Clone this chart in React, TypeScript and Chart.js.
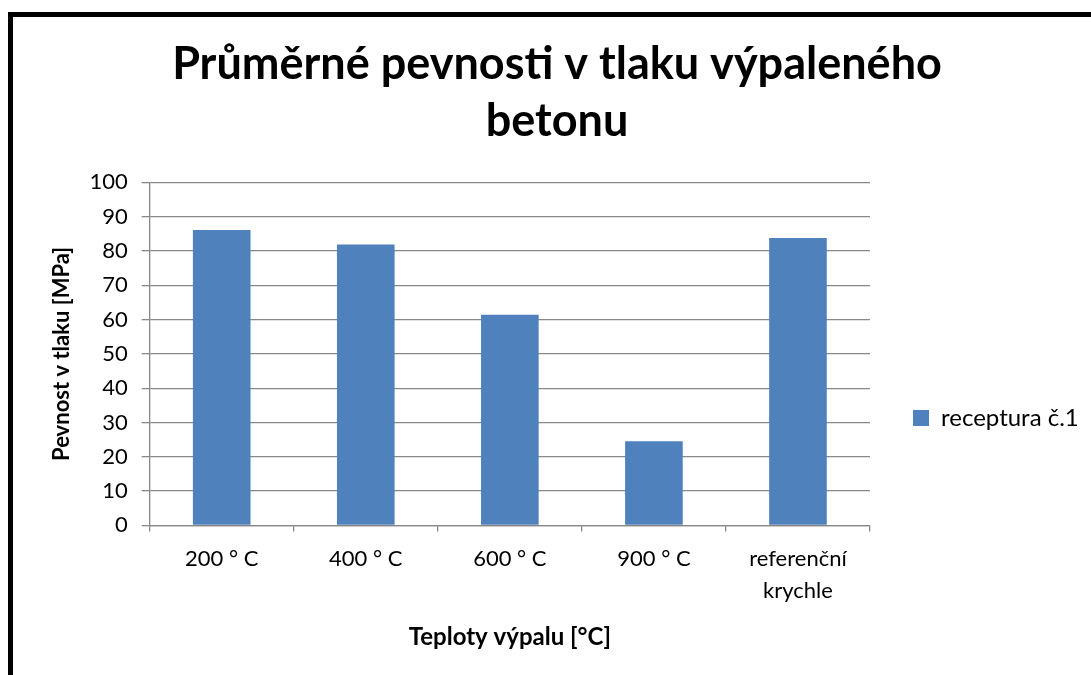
import React, { useEffect, useRef } from "react";
import { Chart, registerables } from "chart.js";

Chart.register(...registerables);

const categories: (string | string[])[] = ["200 ° C", "400 ° C", "600 ° C", "900 ° C", ["referenční", "krychle"]];
const seriesName = "receptura č.1";
const seriesValues = [86.1, 81.9, 61.4, 24.5, 83.8];
const titleLines = ["Průměrné pevnosti v tlaku výpaleného", "betonu"];
const yTitle = "Pevnost v tlaku [MPa]";
const xTitle = "Teploty výpalu [°C]";

const FONT = "Lato, 'Open Sans', sans-serif";

export default function App() {
  const ref = useRef<HTMLCanvasElement | null>(null);
  useEffect(() => {
    if (!ref.current) return;
    const chart = new Chart(ref.current, {
      type: "bar",
      data: {
        labels: categories,
        datasets: [
          {
            label: seriesName,
            data: seriesValues,
            backgroundColor: "#4F81BD",
            borderWidth: 0,
            barPercentage: 0.4,
            categoryPercentage: 1,
          },
        ],
      },
      options: {
        animation: false,
        responsive: false,
        maintainAspectRatio: false,
        layout: { padding: { top: 36, left: 32, right: 32, bottom: 23 } },
        plugins: {
          tooltip: { enabled: false },
          title: {
            display: true,
            text: titleLines,
            color: "#000",
            font: { family: FONT, size: 45, weight: "bold", lineHeight: 1.26 },
            padding: { top: 0, bottom: 33 },
          },
          legend: {
            position: "right",
            title: {
              display: true,
              text: " ",
              font: { family: FONT, size: 10 },
              padding: { top: 136, bottom: 0 },
            },
            labels: {
              color: "#000",
              font: { family: FONT, size: 24 },
              boxWidth: 16,
              boxHeight: 16,
              padding: 6,
            },
          },
        },
        scales: {
          x: {
            offset: true,
            grid: {
              display: true,
              offset: true,
              drawOnChartArea: false,
              drawTicks: true,
              tickLength: 6,
              color: "#888",
              lineWidth: 1.3,
            },
            border: { display: true, color: "#888", width: 1.3 },
            ticks: {
              color: "#000",
              font: { family: FONT, size: 22, lineHeight: 1.45 },
              maxRotation: 0,
              padding: 12,
            },
            title: {
              display: true,
              text: xTitle,
              color: "#000",
              font: { family: FONT, size: 24, weight: "bold" },
              padding: { top: 4, bottom: 0 },
            },
          },
          y: {
            min: 0,
            max: 100,
            ticks: { stepSize: 10, color: "#000", font: { family: FONT, size: 22 }, padding: 14 },
            grid: { color: "#888", lineWidth: 1.3, drawTicks: true, tickLength: 8 },
            border: { display: true, color: "#888", width: 1.3 },
            title: {
              display: true,
              text: yTitle,
              color: "#000",
              font: { family: FONT, size: 22, weight: "bold" },
              padding: { top: 17, bottom: 0 },
            },
          },
          gap: {
            type: "linear",
            position: "right",
            display: true,
            min: 0,
            max: 100,
            grid: { display: false, drawOnChartArea: false },
            ticks: { display: false },
            border: { display: false },
            afterFit: (scale: any) => {
              scale.width = 37;
            },
          },
        },
      },
    });
    return () => chart.destroy();
  }, []);

  return (
    <div style={{ position: "fixed", left: 0, top: 0, width: 1091, height: 675, overflow: "hidden", background: "#fff" }}>
      <div
        style={{
          position: "absolute",
          left: 8,
          top: 12,
          width: 1200,
          height: 800,
          borderLeft: "5px solid #000",
          borderTop: "5px solid #000",
          boxSizing: "border-box",
        }}
      />
      <canvas ref={ref} width={1114} height={675} style={{ position: "absolute", left: 0, top: 0, width: 1114, height: 675 }} />
    </div>
  );
}
